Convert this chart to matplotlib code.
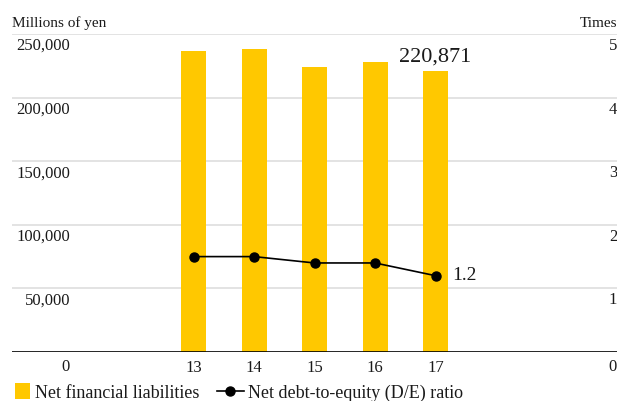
import matplotlib
matplotlib.use("Agg")
import matplotlib.pyplot as plt
from matplotlib.lines import Line2D
from matplotlib.patches import Patch, Rectangle
from matplotlib.legend_handler import HandlerPatch
import matplotlib.transforms as mtransforms

plt.rcParams["font.family"] = ["Liberation Serif", "DejaVu Serif"]

# fiscal years
years = ["13", "14", "15", "16", "17"]
# net financial liabilities, millions of yen
liabilities = [237000, 238600, 224400, 228300, 220871]
# net D/E ratio, times
de_ratio = [1.5, 1.5, 1.4, 1.4, 1.2]

left_ticks = [50000, 100000, 150000, 200000, 250000]
right_ticks = [1, 2, 3, 4, 5]

bar_color = "#FFC800"
grid_color = "#dedede"
text_color = "#1a1a1a"
fs = 12


class SquareHandler(HandlerPatch):
    # bar swatch: a square pushed to the right end of the handle box
    def create_artists(self, legend, orig_handle, xdescent, ydescent,
                       width, height, fontsize, trans):
        side = height * 1.25
        p = Rectangle((-xdescent + width - side, -ydescent - (side - height) / 2),
                      side, side, facecolor=orig_handle.get_facecolor(),
                      edgecolor="none", transform=trans)
        return [p]


fig = plt.figure(figsize=(6.17, 4.01), dpi=100)
ax = fig.add_axes([12 / 617, 49 / 401, 605 / 617, 318 / 401])
ax2 = ax.twinx()

x = list(range(13, 18))
ax.set_xlim(10, 20)
ax.set_ylim(0, 250000)
ax2.set_ylim(0, 5)

for v in left_ticks:
    ax.axhline(v, color=grid_color, lw=1.2, zorder=0)
ax.axhline(0, color="black", lw=1.2, zorder=3)

ax.bar(x, liabilities, width=25 / 60.5, color=bar_color, zorder=2)
ax2.plot(x, de_ratio, color="black", lw=1.2, marker="o", markersize=6.5, zorder=4)

for a in (ax, ax2):
    for s in a.spines.values():
        s.set_visible(False)
    a.set_yticks([])
ax.set_xticks(x)
ax.set_xticklabels(years, fontsize=fs, color=text_color)
ax.tick_params(axis="x", length=0, pad=6)

# value axis labels sit just under their grid lines
lt = mtransforms.blended_transform_factory(ax.transAxes, ax.transData)
rt = mtransforms.blended_transform_factory(ax2.transAxes, ax2.transData)
lt_off = lt + mtransforms.ScaledTranslation(0, -4 / 100, fig.dpi_scale_trans)
rt_off = rt + mtransforms.ScaledTranslation(0, -4 / 100, fig.dpi_scale_trans)
for v in left_ticks:
    ax.text(58 / 605, v, f"{v:,}", transform=lt_off, ha="right", va="top",
            fontsize=fs, color=text_color)
for v in right_ticks:
    ax2.text(1.0, v, f"{v}", transform=rt_off, ha="right", va="top",
             fontsize=fs, color=text_color)
zero_off = mtransforms.ScaledTranslation(0, -7 / 100, fig.dpi_scale_trans)
ax.text(58 / 605, 0, "0", transform=lt + zero_off, ha="right", va="top",
        fontsize=fs, color=text_color)
ax2.text(1.0, 0, "0", transform=rt + zero_off, ha="right", va="top",
         fontsize=fs, color=text_color)

# unit captions above the top grid line
up = mtransforms.ScaledTranslation(0, 4 / 100, fig.dpi_scale_trans)
ax.text(0, 250000, "Millions of yen", transform=lt + up, ha="left", va="bottom",
        fontsize=11, color=text_color)
ax2.text(1.0, 5, "Times", transform=rt + up, ha="right", va="bottom",
         fontsize=11, color=text_color)

# latest-year callouts
ax.annotate(f"{liabilities[-1]:,}", (x[-1], liabilities[-1]), xytext=(0, 3),
            textcoords="offset points", ha="center", va="bottom", fontsize=16,
            color=text_color)
ax2.annotate(f"{de_ratio[-1]}", (x[-1], de_ratio[-1]), xytext=(12, 0),
             textcoords="offset points", ha="left", va="center", fontsize=14,
             color=text_color)

handles = [
    Patch(facecolor=bar_color, edgecolor="none", label="Net financial liabilities"),
    Line2D([], [], color="black", lw=1.2, marker="o", markersize=6.5,
           label="Net debt-to-equity (D/E) ratio"),
]
fig.legend(handles=handles, loc="lower left", bbox_to_anchor=(-12 / 617, -17 / 401),
           ncol=2, frameon=False, fontsize=13, handlelength=1.45, handleheight=0.7,
           handletextpad=0.25, columnspacing=1.0, labelcolor=text_color,
           handler_map={Patch: SquareHandler()})

fig.savefig("out.png", dpi=100)
